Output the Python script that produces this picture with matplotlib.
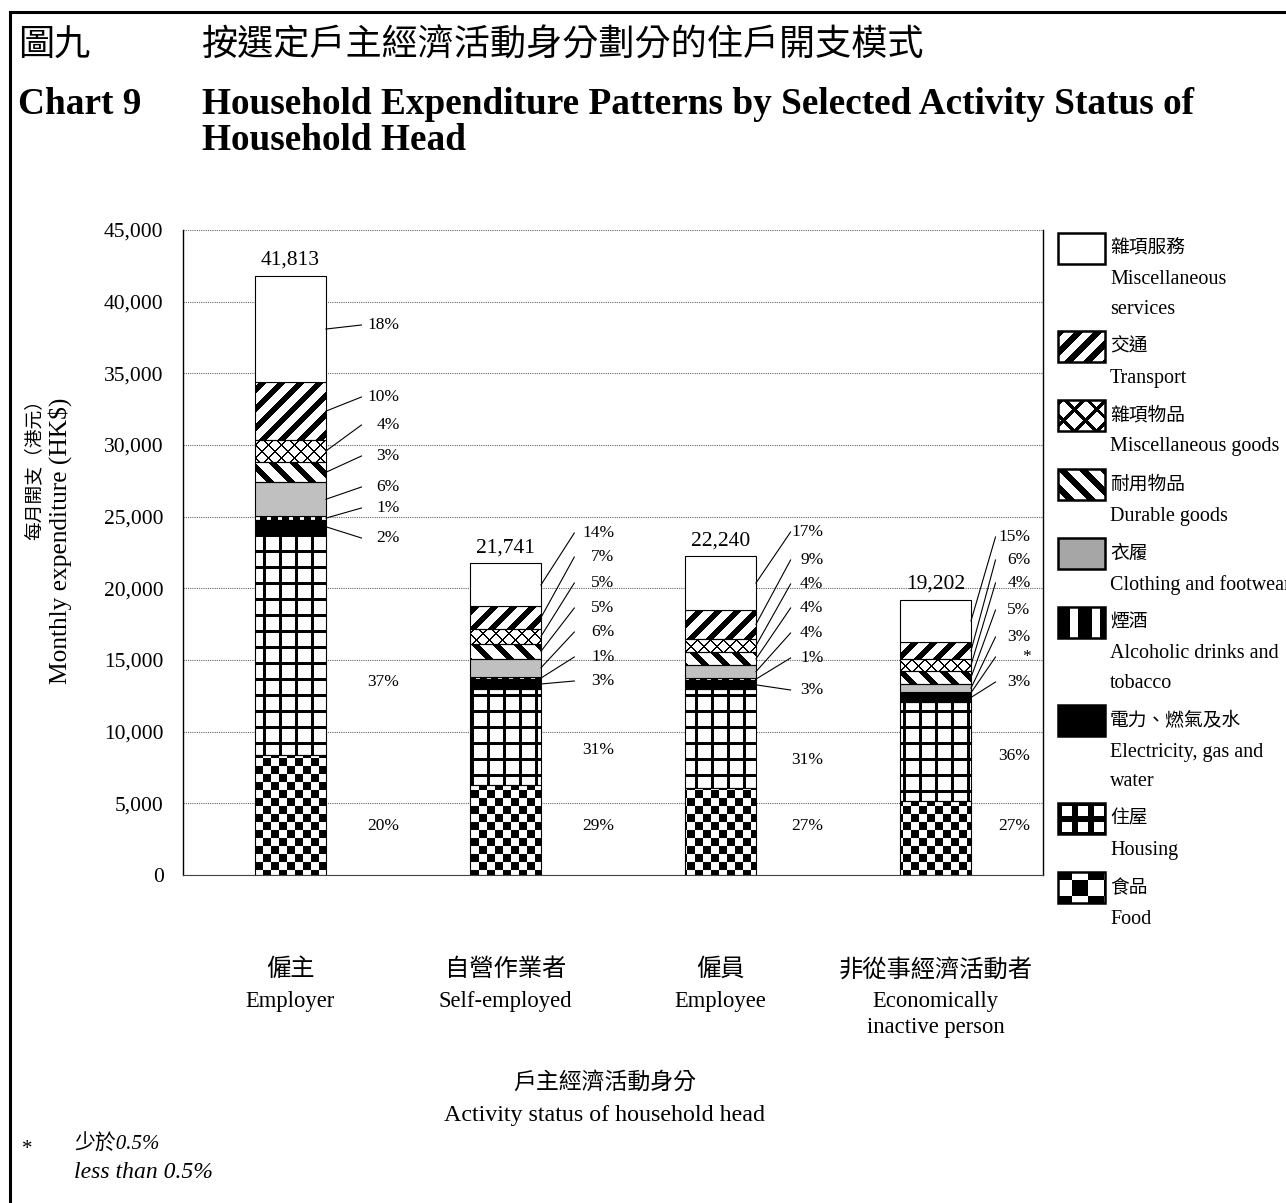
import numpy as np
import matplotlib
matplotlib.use('Agg')
import matplotlib.pyplot as plt
import matplotlib.transforms as mtransforms
from matplotlib.patches import Rectangle
from matplotlib.path import Path

plt.rcParams['font.family'] = ['Liberation Serif', 'Noto Sans CJK TC']

# --- data ---
status_zh = ['僱主', '自營作業者', '僱員', '非從事經濟活動者']
status_en = ['Employer', 'Self-employed', 'Employee', 'Economically\ninactive person']
totals = [41813, 21741, 22240, 19202]

# expenditure items, stacked bottom to top
item_zh = ['食品', '住屋', '電力、燃氣及水', '煙酒', '衣履', '耐用物品', '雜項物品', '交通', '雜項服務']
item_en = ['Food', 'Housing', 'Electricity, gas and\nwater', 'Alcoholic drinks and\ntobacco',
           'Clothing and footwear', 'Durable goods', 'Miscellaneous goods', 'Transport',
           'Miscellaneous\nservices']

# share of monthly expenditure (%)
share_employer = [20.0, 37.0, 2.2, 0.7, 5.6, 3.4, 3.7, 9.6, 17.8]
share_self_employed = [28.8, 31.0, 3.0, 0.8, 5.8, 4.8, 4.8, 7.2, 13.8]
share_employee = [27.2, 31.0, 2.9, 0.7, 4.0, 4.0, 4.3, 9.1, 16.8]
share_inactive = [27.0, 36.0, 3.0, 0.4, 3.0, 4.7, 4.3, 6.2, 15.4]
shares = [share_employer, share_self_employed, share_employee, share_inactive]

# --- styles / layout ---
fills = ['checker', 'grid', 'black', 'vstripe', '#c0c0c0', 'backslash', 'cross', 'slash', 'white']
legend_fills = ['checker', 'grid', 'black', 'vstripe', '#a6a6a6', 'backslash', 'cross', 'slash', 'white']
TEXTURES = {'checker', 'grid', 'vstripe', 'backslash', 'cross', 'slash'}
# (pattern scale, ink thickness factor) for the legend swatches
legend_tex = {'checker': (2, 1), 'grid': (1, 1.7), 'vstripe': (2, 1), 'backslash': (1, 1.1),
              'cross': (1.7, 1.3), 'slash': (1, 1.1)}

W, H = 1286, 1203
AX_L, AX_R, AX_T, AX_B = 183, 1043, 230, 875

# percentage label positions (HK$ axis units), bottom to top
label_y = [
    [3419, 13465, 23512, 25605, 27070, 29233, 31395, 33349, 38372],
    [3419, 8721, 13535, 15209, 16953, 18628, 20372, 22186, 23860],
    [3419, 8023, 12907, 15140, 16884, 18628, 20302, 21977, 23930],
    [3419, 8302, 13465, 15209, 16605, 18488, 20372, 21977, 23581],
]
label_right = [0.507, 0.507, 0.479, 0.442]
leader_end = [0.33, 0.32, 0.326, 0.279]


def texture(kind, w, h, s=1.0, bold=1.0):
    yy, xx = np.mgrid[0:h, 0:w]
    if kind == 'checker':
        c = 8 * s
        ink = ((xx // c + yy // c) % 2) == 0
    elif kind == 'grid':
        p, lw = 16 * s, 3 * s * bold
        ink = (xx % p < lw) | (yy % p < lw)
    elif kind == 'vstripe':
        p, b = 11 * s, 7 * s * bold
        ink = xx % p < b
    elif kind == 'slash':
        p, b = 19 * s, 8 * s * bold
        ink = (xx + yy) % p < b
    elif kind == 'backslash':
        p, b = 21 * s, 8 * s * bold
        ink = (xx - yy) % p < b
    else:  # cross
        p, lw = 13 * s, 2 * s * bold
        ink = ((xx + yy) % p < lw) | ((xx - yy) % p < lw)
    img = np.where(ink, 0, 255).astype(np.uint8)
    return np.dstack([img] * 3)


def rect_path(p):
    x0, y0 = p.get_x(), p.get_y()
    x1, y1 = x0 + p.get_width(), y0 + p.get_height()
    return Path([(x0, y0), (x1, y0), (x1, y1), (x0, y1), (x0, y0)], closed=True)


fig = plt.figure(figsize=(W / 100, H / 100), dpi=100)
ax = fig.add_axes([AX_L / W, 1 - AX_B / H, (AX_R - AX_L) / W, (AX_B - AX_T) / H])

x = np.arange(len(totals))
bar_w = 0.33
values = np.array([[t * s / 100 for s in sh] for t, sh in zip(totals, shares)])

bottoms = np.zeros(len(totals))
textured = {}
for j, fill in enumerate(fills):
    h = values[:, j]
    solid = fill not in TEXTURES
    bars = ax.bar(x, h, bottom=bottoms, width=bar_w, facecolor=fill if solid else 'none',
                  edgecolor='black', linewidth=0.8, zorder=3)
    if not solid:
        textured.setdefault(fill, []).extend(bars.patches)
    bottoms += h

for kind, patches in textured.items():
    clip = Path.make_compound_path(*[rect_path(p) for p in patches])
    im = ax.imshow(texture(kind, AX_R - AX_L, AX_B - AX_T), extent=(0, 1, 0, 1),
                   transform=ax.transAxes, aspect='auto', interpolation='nearest', zorder=2)
    im.set_clip_path(clip, ax.transData)

# percentages, leader lines and totals
for i in range(len(totals)):
    base = np.concatenate([[0], np.cumsum(values[i])[:-1]])
    for j in range(len(fills)):
        s = shares[i][j]
        txt = f'{round(s)}%' if s >= 0.5 else '*'
        ax.text(x[i] + label_right[i], label_y[i][j], txt, ha='right', va='center',
                fontsize=12.5, zorder=4)
        if j >= 2:
            mid = base[j] + values[i][j] / 2
            ax.plot([x[i] + bar_w / 2, x[i] + leader_end[i]], [mid, label_y[i][j]],
                    color='black', lw=0.8, zorder=4)
    ax.annotate(f'{totals[i]:,}', (x[i], totals[i]), xytext=(0, 11),
                textcoords='offset points', ha='center', va='center', fontsize=15.5)

ax.set_xlim(-0.5, 3.5)
ax.set_ylim(0, 45000)
ticks = list(range(0, 45001, 5000))
ax.set_yticks(ticks)
ax.set_yticklabels([f'{v:,}' for v in ticks])
ax.set_xticks([])
ax.tick_params(axis='y', length=0, pad=14, labelsize=15.5)
ax.grid(axis='y', color='#666666', linestyle=(0, (1, 1)), linewidth=0.8)
ax.set_axisbelow(True)
ax.spines['top'].set_visible(False)
ax.spines['bottom'].set_color('#444444')
ax.spines['bottom'].set_linewidth(0.8)
for side in ('left', 'right'):
    ax.spines[side].set_linewidth(1.0)

# category labels under each bar
trans = mtransforms.blended_transform_factory(ax.transData, fig.transFigure)
for i in range(len(totals)):
    ax.text(x[i], 1 - 970 / H, status_zh[i], transform=trans, ha='center', va='center',
            fontsize=17.5)
    ax.text(x[i], 1 - 991 / H, status_en[i], transform=trans, ha='center', va='top',
            fontsize=16.3, linespacing=1.33)

# free-standing text, legend and frame in pixel coordinates
fax = fig.add_axes([0, 0, 1, 1])
fax.axis('off')

fax.text(18, 47, '圖九', ha='left', va='center', fontsize=26)
fax.text(202, 47, '按選定戶主經濟活動身分劃分的住戶開支模式', ha='left', va='center', fontsize=26)
fax.text(18, 105, 'Chart 9', ha='left', va='center', fontsize=26.8, fontweight='bold')
fax.text(202, 105, 'Household Expenditure Patterns by Selected Activity Status of',
         ha='left', va='center', fontsize=26.8, fontweight='bold')
fax.text(202, 140, 'Household Head', ha='left', va='center', fontsize=26.8, fontweight='bold')

fax.text(35, 390, '每月開支（港元）', rotation=90, ha='center', va='top', fontsize=13.5)
fax.text(60, 398, 'Monthly expenditure (HK$)', rotation=90, ha='center', va='top', fontsize=18.3)

fax.text(605, 1083, '戶主經濟活動身分', ha='center', va='center', fontsize=16.5)
fax.text(605, 1116, 'Activity status of household head', ha='center', va='center', fontsize=17.3)

fax.text(27, 1150, '*', ha='center', va='center', fontsize=15)
fax.text(74, 1145, '少於0.5%', ha='left', va='center', fontsize=15, style='italic')
fax.text(74, 1172, 'less than 0.5%', ha='left', va='center', fontsize=17, style='italic')

fax.plot([10, 10], [11.5, H], color='black', lw=2.2, solid_capstyle='projecting')
fax.plot([10, W], [11.5, 11.5], color='black', lw=2.2, solid_capstyle='projecting')

top = 233
for j in range(len(fills) - 1, -1, -1):
    fill = legend_fills[j]
    solid = fill not in TEXTURES
    rect = Rectangle((1058, top), 47, 31, facecolor=fill if solid else 'none',
                     edgecolor='black', lw=1.8, zorder=3)
    fax.add_patch(rect)
    if not solid:
        sc, bold = legend_tex[fill]
        im = fax.imshow(texture(fill, W, H, sc, bold), extent=(0, 1, 0, 1),
                        transform=fax.transAxes, aspect='auto', interpolation='nearest',
                        zorder=2)
        im.set_clip_path(rect)
    ty = top + 16
    fax.text(1110, ty, item_zh[j], ha='left', va='center', fontsize=13.5)
    lines = item_en[j].split('\n')
    for k, line in enumerate(lines):
        fax.text(1110, ty + 31 + 29 * k, line, ha='left', va='center', fontsize=14.5)
    top += 11 + 29 * (1 + len(lines))

fax.set_xlim(0, W)
fax.set_ylim(H, 0)

fig.savefig('out.png', dpi=100)
